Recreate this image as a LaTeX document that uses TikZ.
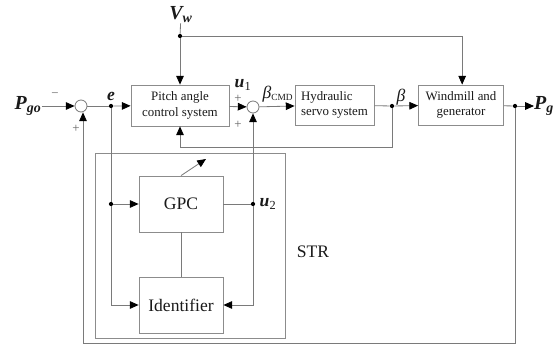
\documentclass[tikz,border=0pt]{standalone}
\usepackage{fontspec}
\setmainfont{Liberation Serif}
\usepackage{tikz}
\usetikzlibrary{arrows.meta,positioning,calc}
\definecolor{wiregray}{HTML}{7A7A7A}
\definecolor{boxgray}{HTML}{8C8C8C}
\definecolor{inkdark}{HTML}{1A1A1A}
\tikzset{
  block/.style={rectangle,draw=boxgray,fill=white,text=inkdark,line width=0.7pt,
    align=center,inner sep=2pt,font=\rmfamily\fontsize{11}{13}\selectfont},
  sumnode/.style={circle,draw=wiregray,fill=white,line width=0.7pt,minimum size=0.36cm,inner sep=0pt},
  wire/.style={draw=wiregray,line width=0.7pt},
  sig/.style={wire,-{Triangle[length=7.5pt,width=6.5pt,color=black]}},
  junc/.style={circle,fill=black,minimum size=3.6pt,inner sep=0pt},
  varlabel/.style={text=inkdark,font=\rmfamily\fontsize{15}{15}\selectfont\bfseries\itshape,inner sep=0pt},
  biglabel/.style={text=inkdark,font=\rmfamily\fontsize{17}{17}\selectfont\bfseries\itshape,inner sep=0pt},
  sgn/.style={text=wiregray!80!black,font=\rmfamily\fontsize{11}{11}\selectfont,inner sep=0pt},
}

\begin{document}
\begin{tikzpicture}[x=0.03cm,y=-0.03cm]
  \useasboundingbox (0,0) rectangle (558,345);
  % forward path
  \node[biglabel] (pgo) at (28,106) {P\textsubscript{go}};
  \node[sumnode] (sum1) at (81,106) {};
  \node[junc] (eDot) at (111,106) {};
  \node[block,minimum width=2.94cm,minimum height=1.23cm] (pitch) at (180,105.5) {Pitch angle\\control system};
  \node[sumnode] (sum2) at (253,107) {};
  \node[block,minimum width=2.37cm,minimum height=1.2cm,align=left] (hyd) at (334.5,105) {Hydraulic\\servo system};
  \node[junc] (betaDot) at (392,106) {};
  \node[block,minimum width=2.55cm,minimum height=1.2cm] (wind) at (461,105) {Windmill and\\generator};
  \node[junc] (pgDot) at (515,106) {};
  \node[biglabel,anchor=west] (pg) at (534,106) {P\textsubscript{g}};
  \node[biglabel] (vw) at (181,15) {V\textsubscript{w}};
  \node[junc] (vwDot) at (180,36) {};
  % STR part
  \node[rectangle,draw=boxgray,line width=0.7pt,minimum width=5.7cm,minimum height=5.55cm] (strbox) at (190,245.5) {};
  \node[block,minimum width=2.52cm,minimum height=1.68cm,font=\rmfamily\fontsize{15}{17}\selectfont] (gpc) at (181,204) {GPC};
  \node[block,minimum width=2.52cm,minimum height=1.68cm,font=\rmfamily\fontsize{15}{17}\selectfont] (ident) at (181,305) {Identifier};
  \node[junc] (gpcIn) at (111,204) {};
  \node[junc] (u2Dot) at (253,204) {};
  \node[text=inkdark,font=\rmfamily\fontsize{15}{15}\selectfont] (str) at (313,252) {STR};
  % labels
  \node[varlabel] (eLbl) at (111,96) {e};
  \node[varlabel] (u1Lbl) at (243,85) {u\textsubscript{\normalfont\mdseries\upshape 1}};
  \node[varlabel] (u2Lbl) at (268,204) {u\textsubscript{\normalfont\mdseries\upshape 2}};
  \node[varlabel,font=\rmfamily\fontsize{15}{15}\selectfont\itshape] (bcmd) at (278,94) {β\textsubscript{\upshape\fontsize{8}{8}\selectfont CMD}};
  \node[varlabel,font=\rmfamily\fontsize{15}{15}\selectfont\itshape] (bLbl) at (401,97) {β};
  \node[sgn] (m1) at (55,95) {−};
  \node[sgn] (p1) at (76,129) {+};
  \node[sgn] (p2) at (238,99) {+};
  \node[sgn] (p3) at (238,125) {+};
  \coordinate (adjTip) at (206,159);
  \coordinate (fbR) at (515,343);
  \coordinate (fbL) at (83,343);
  \coordinate (bfb) at (392,147);
  % connectors
  \draw[sig] (pgo) -- (sum1);
  \draw[wire] (sum1) -- (eDot);
  \draw[sig] (eDot) -- (pitch);
  \draw[sig] (pitch) -- (sum2);
  \draw[sig] (sum2) -- (hyd);
  \draw[wire] (hyd) -- (betaDot);
  \draw[sig] (betaDot) -- (wind);
  \draw[wire] (wind) -- (pgDot);
  \draw[sig] (pgDot) -- (pg);
  \draw[wire] (vw) -- (vwDot);
  \draw[sig] (vwDot) -- (pitch);
  \draw[sig] (vwDot) -| ([xshift=1pt]wind.north);
  \draw[sig] (betaDot) -- (bfb) -| (pitch.south);
  \draw[sig] (pgDot) -- (fbR) -- (fbL) -- (fbL |- sum1.south);
  \draw[wire] (eDot) -- (gpcIn);
  \draw[sig] (gpcIn) -- (gpc);
  \draw[sig] (gpcIn) |- (ident);
  \draw[wire] (gpc) -- (u2Dot);
  \draw[sig] (u2Dot) -- (sum2);
  \draw[sig] (u2Dot) |- (ident);
  \draw[wire] (gpc) -- (ident);
  \draw[sig] (gpc.north) -- (adjTip);
\end{tikzpicture}
\end{document}
